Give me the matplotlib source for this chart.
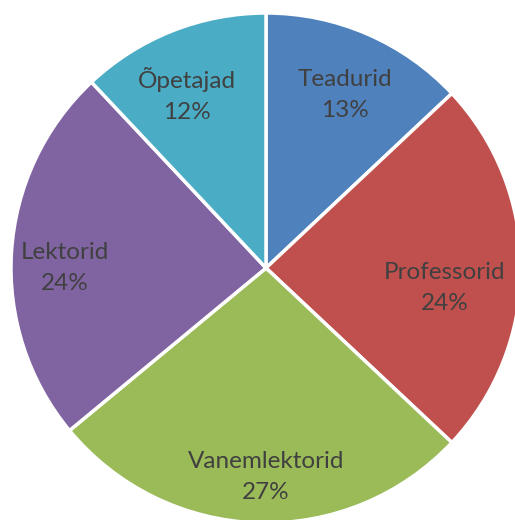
import numpy as np
import matplotlib
matplotlib.use('Agg')
import matplotlib.pyplot as plt

labels = ['Teadurid', 'Professorid', 'Vanemlektorid', 'Lektorid', 'Õpetajad']
shares = [13, 24, 27, 24, 12]
colors = ['#4F81BD', '#C0504D', '#9BBB59', '#8064A2', '#4BACC6']
# label placement: fraction of radius, and degrees off the slice middle
label_r = [0.745, 0.705, 0.82, 0.79, 0.745]
label_da = [-1.1, -6.4, 1.8, 3.6, 2.9]

plt.rcParams['font.family'] = ['Lato', 'DejaVu Sans']

fig = plt.figure(figsize=(5.15, 5.2), dpi=100)
W, H = 515, 520
cx, cy, r = 266, 268, 255
ax = fig.add_axes([(cx - r) / W, (H - cy - r) / H, 2 * r / W, 2 * r / H])

wedges, _ = ax.pie(
    shares,
    colors=colors,
    startangle=90,
    counterclock=False,
    radius=1,
    wedgeprops=dict(edgecolor='white', linewidth=2.5),
)

for w, lab, v, f, da in zip(wedges, labels, shares, label_r, label_da):
    ang = np.deg2rad((w.theta1 + w.theta2) / 2 + da)
    ax.text(f * np.cos(ang), f * np.sin(ang), '%s\n%d%%' % (lab, v),
            ha='center', va='center', fontsize=17.5, color='#404040',
            linespacing=1.6)

ax.set_xlim(-1, 1)
ax.set_ylim(-1, 1)
ax.set_aspect('equal')
ax.axis('off')

fig.savefig('out.png', dpi=100)
